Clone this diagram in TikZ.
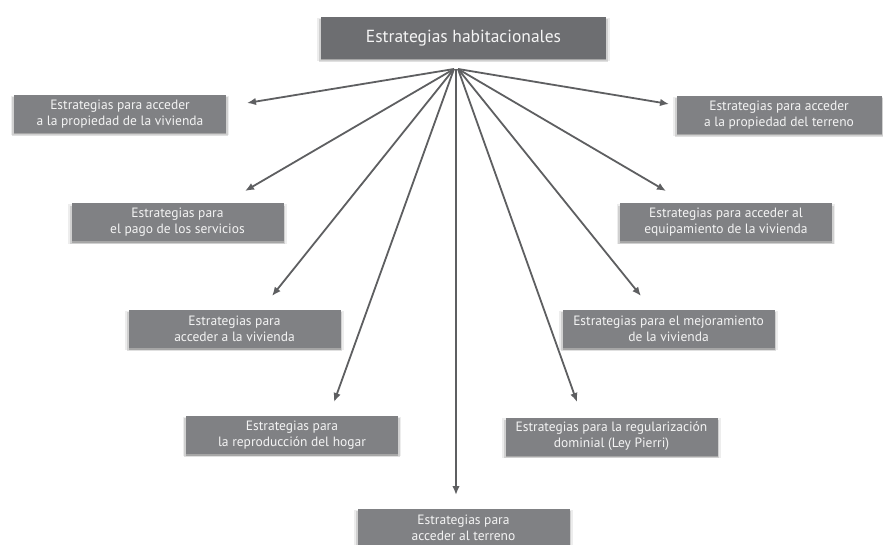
\documentclass[tikz,border=0pt]{standalone}
\usepackage{fontspec}
\setmainfont{PT Sans}
\usetikzlibrary{arrows.meta,shadows}
\definecolor{boxgray}{HTML}{808184}
\definecolor{topgray}{HTML}{6D6E71}
\definecolor{arrgray}{HTML}{5E5F61}
\definecolor{txt}{HTML}{F4F4F4}
\tikzset{
  softshadow/.style={
    drop shadow={shadow xshift=0pt,shadow yshift=-1.5pt,opacity=.07,fill=black,shadow scale=1.03},
    drop shadow={shadow xshift=0pt,shadow yshift=-2.5pt,opacity=.12,fill=black,shadow scale=1.015},
    drop shadow={shadow xshift=0pt,shadow yshift=-1.5pt,opacity=.2,fill=black}},
  stratbox/.style={softshadow,fill=boxgray,text=txt,minimum width=212pt,minimum height=38pt,
    align=center,inner sep=0pt,font=\fontsize{13.5}{16}\selectfont},
  topbox/.style={softshadow,fill=topgray,text=txt,minimum width=285pt,minimum height=42pt,
    inner sep=0pt,font=\fontsize{17.5}{20}\selectfont},
  link/.style={draw=arrgray,line width=1.8pt,-{Latex[length=9pt,width=7.5pt]}}
}
\begin{document}
\begin{tikzpicture}[x=1pt,y=-1pt]
\fill[white] (0,0) rectangle (883,545);
\useasboundingbox (0,0) rectangle (883,545);
\node[topbox] (top) at (463.5,38) {Estrategias habitacionales};
\node[stratbox] (n1) at (120,114) {Estrategias para acceder\\a la propiedad\ de la vivienda};
\node[stratbox,minimum width=205pt] (n2) at (779,115) {Estrategias para acceder\\a la propiedad del terreno};
\node[stratbox] (n3) at (177.5,222.5) {Estrategias para\\el pago de los servicios};
\node[stratbox] (n4) at (726,222.5) {Estrategias para acceder al\\equipamiento de la vivienda};
\node[stratbox] (n5) at (234.5,329) {Estrategias para\\acceder a la vivienda};
\node[stratbox] (n6) at (668.5,329) {Estrategias para el mejoramiento\\de la vivienda};
\node[stratbox] (n7) at (292,435) {Estrategias para\\la reproducción del hogar};
\node[stratbox] (n8) at (611.5,436.5) {Estrategias para la regularización\\dominial (Ley Pierri)};
\node[stratbox] (n9) at (463.5,528) {Estrategias para\\acceder al terreno};
\coordinate (oL) at (454,69);
\coordinate (oC) at (456,69);
\coordinate (oR) at (458,69);
\coordinate (t1) at (247,103);
\coordinate (t2) at (669,104);
\coordinate (t3) at (245,191);
\coordinate (t4) at (666,191);
\coordinate (t5) at (272,296);
\coordinate (t6) at (641,296);
\coordinate (t7) at (334,402);
\coordinate (t8) at (577,402);
\coordinate (t9) at (456,495);
\draw[link] (oL) -- (t1);
\draw[link] (oR) -- (t2);
\draw[link] (oL) -- (t3);
\draw[link] (oR) -- (t4);
\draw[link] (oL) -- (t5);
\draw[link] (oR) -- (t6);
\draw[link] (oL) -- (t7);
\draw[link] (oR) -- (t8);
\draw[link] (oC) -- (t9);
\end{tikzpicture}
\end{document}
